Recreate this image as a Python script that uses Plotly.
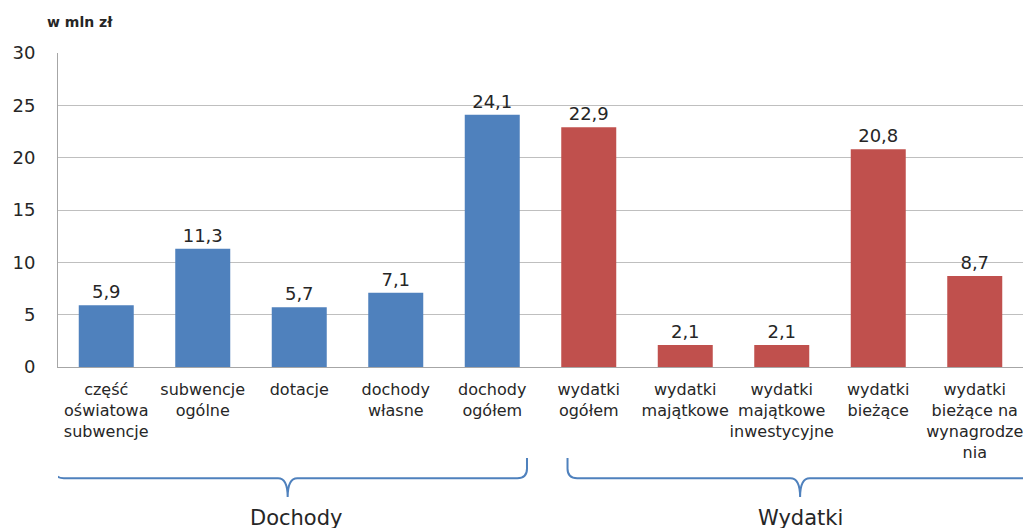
import plotly.graph_objects as go

categories = [
    "część<br>oświatowa<br>subwencje",
    "subwencje<br>ogólne",
    "dotacje",
    "dochody<br>własne",
    "dochody<br>ogółem",
    "wydatki<br>ogółem",
    "wydatki<br>majątkowe",
    "wydatki<br>majątkowe<br>inwestycyjne",
    "wydatki<br>bieżące",
    "wydatki<br>bieżące na<br>wynagrodze<br>nia",
]
values = [5.9, 11.3, 5.7, 7.1, 24.1, 22.9, 2.1, 2.1, 20.8, 8.7]
groups = ["Dochody"] * 5 + ["Wydatki"] * 5
group_colors = {"Dochody": "#4F81BD", "Wydatki": "#C0504D"}

FONT = "DejaVu Sans"
TEXT = "#262626"

fig = go.Figure()
fig.add_trace(
    go.Bar(
        x=list(range(len(categories))),
        y=values,
        marker={"color": [group_colors[g] for g in groups], "line": {"width": 0}},
        width=0.57,
        text=[f"{v:.1f}".replace(".", ",") for v in values],
        textposition="outside",
        textfont={"size": 18, "color": TEXT, "family": FONT},
        cliponaxis=False,
        showlegend=False,
    )
)

# curly braces under each group
brace_color = "#4F81BD"


def brace(x0, x1, xm):
    top, mid, tip = -0.29, -0.354, -0.414
    r = 0.1
    return (
        f"M {x0},{top} L {x0},{mid + 0.03} Q {x0},{mid} {x0 + r},{mid} "
        f"L {xm - r},{mid} Q {xm},{mid} {xm},{tip} "
        f"Q {xm},{mid} {xm + r},{mid} L {x1 - r},{mid} "
        f"Q {x1},{mid} {x1},{mid + 0.03} L {x1},{top}"
    )


fig.add_shape(type="path", path=brace(-0.54, 4.36, 1.88), xref="x", yref="paper",
              line={"color": brace_color, "width": 2})
fig.add_shape(type="path", path=brace(4.78, 9.95, 7.19), xref="x", yref="paper",
              line={"color": brace_color, "width": 2})

for name, xpos in [("Dochody", 1.97), ("Wydatki", 7.19)]:
    fig.add_annotation(x=xpos, y=-0.481, xref="x", yref="paper", text=name, showarrow=False,
                       font={"size": 21, "color": TEXT, "family": FONT}, yanchor="middle")
fig.add_annotation(x=-0.0135, y=1.099, xref="paper", yref="paper", text="<b>w mln zł</b>",
                   showarrow=False, font={"size": 14, "color": TEXT, "family": FONT},
                   xanchor="left", yanchor="middle")

fig.update_xaxes(
    range=[-0.5, 9.5],
    tickmode="array",
    tickvals=list(range(len(categories))),
    ticktext=categories,
    tickfont={"size": 16, "color": TEXT, "family": FONT},
    tickangle=0,
    ticklabelstandoff=8,
    showline=True,
    linecolor="#a6a6a6",
    ticks="",
    showgrid=False,
)
fig.update_yaxes(
    range=[0, 30],
    dtick=5,
    tickfont={"size": 18, "color": TEXT, "family": FONT},
    showline=True,
    linecolor="#a6a6a6",
    gridcolor="#bfbfbf",
    gridwidth=1,
    ticks="",
    ticklabelstandoff=18,
    zeroline=False,
)
# the page body adds an 8px offset, so margins are shifted to compensate
fig.update_layout(
    width=1031,
    height=528,
    margin={"l": 50, "r": 16, "t": 45, "b": 169, "autoexpand": False},
    plot_bgcolor="white",
    paper_bgcolor="white",
    font={"family": FONT},
)
fig.write_html("out.html")
